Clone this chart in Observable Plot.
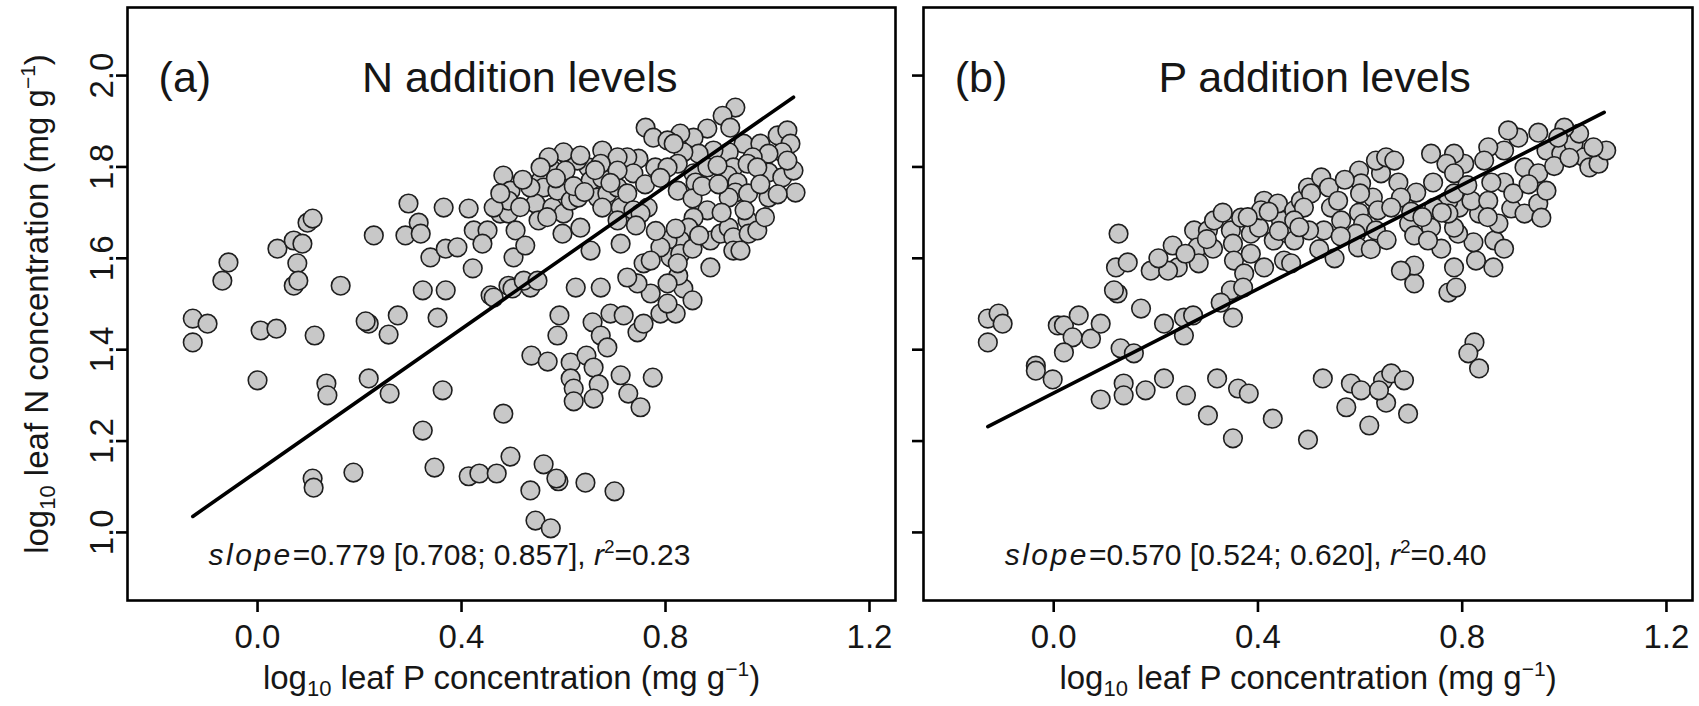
<!DOCTYPE html>
<html><head><meta charset="utf-8">
<script src="https://cdn.jsdelivr.net/npm/d3@7"></script>
<script src="https://cdn.jsdelivr.net/npm/@observablehq/plot@0.6"></script>
<style>
body{margin:0;background:#fff;}
#wrap{position:relative;width:1699px;height:706px;}
#wrap svg{position:absolute;top:0;}
</style></head><body><div id="wrap"></div>
<script>
// ---------- data: (log10 leaf P, log10 leaf N) ----------
const panelAPoints = [
[-0.057,1.591],[-0.069,1.551],[0.039,1.621],[0.071,1.639],[0.088,1.632],[0.098,1.678],[0.108,1.687],[0.078,1.589],[0.071,1.540],[0.080,1.551],[0.163,1.540],[0.228,1.650],[0.296,1.720],[0.316,1.678],[0.290,1.650],[0.320,1.654],[0.339,1.602],[0.365,1.711],[0.369,1.621],[0.392,1.624],[0.414,1.709],[0.424,1.661],[0.451,1.661],[0.441,1.632],[0.422,1.578],[0.324,1.530],[0.369,1.530],[0.482,1.781],[0.496,1.748],[0.476,1.698],[0.492,1.698],[0.506,1.661],[0.502,1.602],[0.492,1.540],[0.457,1.519],
[-0.127,1.468],[-0.098,1.457],[-0.127,1.416],[0.006,1.442],[0.037,1.446],[0.112,1.431],[0.218,1.457],[0.212,1.462],[0.275,1.475],[0.257,1.433],[0.353,1.470],[0.000,1.333],[0.135,1.326],[0.137,1.300],[0.218,1.337],[0.259,1.304],[0.363,1.311],[0.482,1.260],[0.324,1.223],[0.108,1.118],[0.110,1.098],[0.188,1.131],[0.347,1.142],[0.414,1.123],[0.435,1.129],[0.469,1.129],[0.496,1.166],
[0.535,1.092],[0.561,1.149],[0.590,1.112],[0.586,1.118],[0.643,1.109],[0.700,1.090],[0.545,1.026],[0.575,1.009],[0.537,1.387],[0.569,1.374],[0.614,1.372],[0.614,1.337],[0.620,1.315],[0.620,1.287],[0.645,1.387],[0.659,1.361],[0.669,1.324],[0.659,1.293],[0.712,1.344],[0.727,1.304],[0.751,1.274],[0.775,1.339],[0.592,1.475],[0.588,1.431],[0.657,1.460],[0.673,1.431],[0.686,1.405],[0.692,1.479],[0.718,1.475],[0.745,1.438],[0.757,1.457],[0.790,1.479],[0.820,1.479],[0.804,1.501],[0.835,1.534],[0.853,1.508],[0.771,1.523],[0.745,1.545],[0.624,1.536],[0.673,1.536],[0.535,1.536],[0.463,1.514],[0.500,1.534],
[0.937,1.930],[0.912,1.912],[0.927,1.886],[0.882,1.884],[0.855,1.864],[0.829,1.873],[0.761,1.886],[0.776,1.864],[0.804,1.858],[0.953,1.851],[0.986,1.851],[1.020,1.869],[1.039,1.880],[1.045,1.851],[1.029,1.832],[1.002,1.829],[0.971,1.821],[0.924,1.832],[0.894,1.836],[0.865,1.829],[0.835,1.832],[0.816,1.851],[0.747,1.818],[0.780,1.799],[0.824,1.807],[0.855,1.786],[0.882,1.799],[0.933,1.799],[0.961,1.807],[0.922,1.781],[0.941,1.766],[0.937,1.744],[0.924,1.733],[1.002,1.788],[1.029,1.777],[1.051,1.792],[1.055,1.744],[1.002,1.733],[1.039,1.814],[0.980,1.799],[0.712,1.799],[0.725,1.821],[0.737,1.786],[0.692,1.786],[0.676,1.836],[0.706,1.821],[0.649,1.799],[0.627,1.814],[0.600,1.832],[0.575,1.797],[0.555,1.770],[0.561,1.755],[0.492,1.726],[0.525,1.628],
[0.545,1.720],[0.551,1.683],[0.578,1.711],[0.588,1.748],[0.600,1.698],[0.598,1.654],[0.614,1.726],[0.629,1.733],[0.633,1.667],[0.653,1.770],[0.676,1.775],[0.667,1.733],[0.686,1.742],[0.676,1.711],[0.706,1.755],[0.712,1.711],[0.725,1.742],[0.706,1.683],[0.737,1.705],[0.765,1.711],[0.751,1.698],[0.804,1.799],[0.824,1.748],[0.859,1.766],[0.853,1.731],[0.882,1.705],[0.855,1.689],[0.845,1.667],[0.829,1.639],[0.804,1.639],[0.810,1.602],[0.829,1.610],[0.790,1.624],[0.853,1.621],[0.888,1.639],[0.908,1.654],[0.924,1.667],[0.933,1.646],[0.961,1.683],[0.963,1.654],[0.980,1.661],[0.933,1.617],[0.947,1.617],[0.888,1.580],[0.825,1.562],[0.824,1.589],[0.804,1.545],[0.725,1.558],[0.757,1.589],[0.653,1.617],[0.712,1.632],[0.771,1.595],[0.522,1.551],[0.549,1.551],[0.463,1.711],[0.476,1.742],[0.535,1.755],[0.571,1.821],[0.604,1.792],[0.633,1.825],[0.555,1.799],[0.673,1.807],[0.706,1.792],
[0.520,1.772],[0.585,1.775],[0.620,1.758],[0.641,1.745],[0.662,1.793],[0.692,1.765],[0.760,1.762],[0.790,1.776],[0.872,1.758],[0.904,1.762],[0.902,1.803],[0.962,1.742],[0.986,1.762],[0.910,1.700],[0.866,1.650],[0.820,1.665],[0.781,1.660],[0.742,1.672],[0.568,1.690],[0.515,1.712],[0.995,1.690],[1.020,1.740],[0.955,1.705]
];
const panelBPoints = [
[0.127,1.654],[0.122,1.580],[0.145,1.591],[0.190,1.573],[0.233,1.628],[0.243,1.580],[0.224,1.573],[0.275,1.661],[0.282,1.624],[0.284,1.589],[0.302,1.661],[0.314,1.683],[0.312,1.621],[0.347,1.661],[0.351,1.632],[0.353,1.595],[0.367,1.689],[0.386,1.654],[0.402,1.667],[0.412,1.726],[0.406,1.705],[0.386,1.610],[0.373,1.567],[0.412,1.580],[0.431,1.639],[0.445,1.683],[0.439,1.720],[0.459,1.654],[0.451,1.595],[0.471,1.705],[0.484,1.726],[0.498,1.755],[0.347,1.530],[0.371,1.536],[0.125,1.523],
[-0.129,1.468],[-0.108,1.479],[-0.100,1.457],[-0.129,1.416],[0.008,1.453],[0.020,1.453],[0.049,1.475],[0.037,1.427],[0.073,1.424],[0.092,1.457],[0.020,1.394],[-0.035,1.365],[-0.035,1.354],[-0.002,1.335],[0.118,1.530],[0.171,1.490],[0.131,1.403],[0.157,1.392],[0.216,1.457],[0.255,1.470],[0.273,1.475],[0.255,1.431],[0.351,1.470],[0.327,1.503],[0.137,1.326],[0.137,1.300],[0.180,1.311],[0.092,1.291],[0.216,1.337],[0.259,1.300],[0.302,1.256],[0.320,1.337],[0.361,1.315],[0.382,1.304],[0.351,1.206],[0.429,1.249],[0.498,1.203],
[0.527,1.337],[0.582,1.326],[0.602,1.311],[0.573,1.274],[0.618,1.234],[0.645,1.333],[0.661,1.348],[0.686,1.333],[0.651,1.284],[0.694,1.260],[0.637,1.311],[0.824,1.416],[0.812,1.392],[0.833,1.359],[0.706,1.545],[0.773,1.525],[0.788,1.536],
[0.706,1.584],[0.680,1.573],[0.784,1.580],[0.861,1.580],[0.827,1.595],[0.759,1.621],[0.822,1.635],[0.863,1.639],[0.882,1.621],[0.792,1.654],[0.871,1.676],[0.833,1.698],[0.794,1.711],[0.773,1.726],[0.784,1.667],[0.739,1.667],[0.696,1.676],[0.706,1.650],[0.733,1.639],[0.818,1.726],[0.851,1.726],[0.882,1.766],[0.896,1.709],[0.922,1.698],[0.949,1.720],[0.965,1.748],[0.955,1.689],[0.922,1.799],[0.949,1.786],[0.965,1.836],[0.994,1.829],[1.018,1.851],[1.039,1.821],[1.049,1.799],[1.067,1.807],[1.082,1.836],[1.057,1.843],[1.029,1.873],[1.000,1.886],[0.988,1.864],[0.949,1.875],[0.910,1.864],[0.890,1.880],[0.882,1.836],[0.851,1.843],[0.843,1.814],[0.804,1.807],[0.784,1.829],[0.769,1.807],[0.743,1.766],[0.784,1.786],[0.857,1.766],[0.784,1.742],[0.773,1.698],[0.675,1.766],[0.710,1.744],[0.680,1.733],[0.641,1.786],[0.631,1.814],[0.651,1.821],[0.667,1.814],[0.598,1.792],[0.602,1.764],[0.625,1.733],[0.598,1.700],[0.635,1.705],[0.661,1.711],[0.606,1.676],[0.592,1.654],[0.596,1.624],[0.631,1.661],[0.524,1.777],[0.539,1.755],[0.543,1.711],[0.504,1.742],[0.490,1.711],[0.529,1.661],[0.500,1.661],[0.471,1.683],[0.563,1.683],[0.557,1.726],[0.471,1.639],[0.465,1.589],[0.739,1.829],[0.745,1.711],
[0.300,1.642],[0.331,1.700],[0.380,1.690],[0.421,1.702],[0.441,1.660],[0.481,1.668],[0.520,1.620],[0.550,1.600],[0.562,1.648],[0.621,1.620],[0.652,1.640],[0.700,1.702],[0.722,1.690],[0.760,1.700],[0.810,1.760],[0.850,1.690],[0.900,1.742],[0.930,1.762],[0.980,1.802],[1.010,1.820],[0.600,1.742],[0.570,1.772],[0.258,1.610],[0.205,1.600]
];
const xTicks = [0.0, 0.4, 0.8, 1.2];
const yTicks = [1.0, 1.2, 1.4, 1.6, 1.8, 2.0];
const panelLetters = ["(a)", "(b)"];
const panelTitles = ["N addition levels", "P addition levels"];
const fitSlopes = [0.779, 0.570];
const fitIntercepts = [1.134, 1.305];
const fitXRanges = [[-0.127, 1.051], [-0.129, 1.078]];
const slopeCI = [[0.708, 0.857], [0.524, 0.620]];
const rSquared = [0.23, 0.40];
const xTitleParts = ["log", "10", " leaf P concentration (mg g", "\u22121", ")"];
const yTitleParts = ["log", "10", " leaf N concentration (mg g", "\u22121", ")"];

// ---------- drawing ----------
const NS = "http://www.w3.org/2000/svg";
const FONT = "'Liberation Sans', Arial, Helvetica, sans-serif";
const f1 = d3.format(".1f");
function tspan(parent, txt, attrs = {}) {
  const t = document.createElementNS(NS, "tspan");
  for (const k in attrs) t.setAttribute(k, attrs[k]);
  t.textContent = txt;
  parent.appendChild(t);
  return t;
}
function richTitle(svg, parts) {
  const joined = parts.join("");
  svg.querySelectorAll("text").forEach(el => {
    if (el.textContent === joined) {
      el.textContent = "";
      el.style.whiteSpace = "pre";
      tspan(el, parts[0]);
      tspan(el, parts[1], {"font-size": 22, dy: 7});
      tspan(el, parts[2], {dy: -7});
      tspan(el, parts[3], {"font-size": 21, dy: -13});
      tspan(el, parts[4], {dy: 13});
    }
  });
}
function slopeBody(i) {
  return "=" + fitSlopes[i].toFixed(3) + " [" + slopeCI[i][0].toFixed(3) + "; " + slopeCI[i][1].toFixed(3) + "], ";
}
function richSlope(svg, i) {
  const body = slopeBody(i);
  const joined = "slope" + body + "r2=" + rSquared[i].toFixed(2);
  svg.querySelectorAll("text").forEach(el => {
    if (el.textContent === joined) {
      el.textContent = "";
      el.style.whiteSpace = "pre";
      tspan(el, "slope", {"font-style": "italic", "letter-spacing": 2.5});
      tspan(el, body);
      tspan(el, "r", {"font-style": "italic"});
      tspan(el, "2", {"font-size": 19, dy: -12});
      tspan(el, "=" + rSquared[i].toFixed(2), {dy: 12});
    }
  });
}

function panel(i, points, opts) {
  const slopeText = "slope" + slopeBody(i) + "r2=" + rSquared[i].toFixed(2);
  const fitLine = fitXRanges[i].map(x => ({x, y: fitIntercepts[i] + fitSlopes[i] * x}));
  const marks = [
    Plot.dot(points, {x: d => d[0], y: d => d[1], r: 9.3, fill: "#c8c8c8", stroke: "#1e1e1e", strokeWidth: 1.6}),
    Plot.line(fitLine, {x: "x", y: "y", stroke: "black", strokeWidth: 3.6}),
    Plot.frame({stroke: "black", strokeWidth: 2.6}),
    Plot.axisX(xTicks, {tickSize: 12, tickPadding: 12, tickFormat: f1, fontSize: 33, strokeWidth: 2.6, stroke: "black", fill: "#161616", label: null}),
    Plot.axisY(yTicks, {tickSize: 11, tickFormat: () => "", strokeWidth: 2.6, stroke: "black", label: null}),
    Plot.text([panelLetters[i]], {x: () => -0.194, y: () => 1.965, text: d => d, textAnchor: "start", lineAnchor: "bottom", fontSize: 43, fill: "#161616"}),
    Plot.text([panelTitles[i]], {x: () => 0.205, y: () => 1.965, text: d => d, textAnchor: "start", lineAnchor: "bottom", fontSize: 43, fill: "#161616"}),
    Plot.text([slopeText], {x: () => -0.096, y: () => 0.928, text: d => d, textAnchor: "start", lineAnchor: "bottom", fontSize: 30, fill: "#161616"}),
    Plot.text([xTitleParts.join("")], {frameAnchor: "bottom", dy: 88, text: d => d, lineAnchor: "bottom", fontSize: 33, fill: "#161616"})
  ];
  if (opts.yLabels) {
    marks.push(Plot.text(yTicks, {y: d => d, text: d => f1(d), frameAnchor: "left", dx: -25, rotate: -90, textAnchor: "middle", lineAnchor: "middle", fontSize: 33, fill: "#161616"}));
    marks.push(Plot.text([yTitleParts.join("")], {frameAnchor: "left", dx: -90, rotate: -90, text: d => d, textAnchor: "middle", lineAnchor: "middle", fontSize: 33, fill: "#161616"}));
  }
  const svg = Plot.plot({
    width: opts.width, height: 706,
    marginLeft: opts.marginLeft, marginRight: opts.marginRight, marginTop: 7, marginBottom: 106,
    x: {domain: [-0.255, 1.251]},
    y: {domain: [0.851, 2.149]},
    style: {fontFamily: FONT, background: "transparent", overflow: "visible"},
    marks
  });
  svg.style.left = opts.left + "px";
  richTitle(svg, xTitleParts);
  if (opts.yLabels) richTitle(svg, yTitleParts);
  richSlope(svg, i);
  return svg;
}

const wrap = document.getElementById("wrap");
wrap.appendChild(panel(0, panelAPoints, {left: 0, width: 900, marginLeft: 127, marginRight: 5, yLabels: true}));
wrap.appendChild(panel(1, panelBPoints, {left: 900, width: 799, marginLeft: 23, marginRight: 7, yLabels: false}));
</script></body></html>
